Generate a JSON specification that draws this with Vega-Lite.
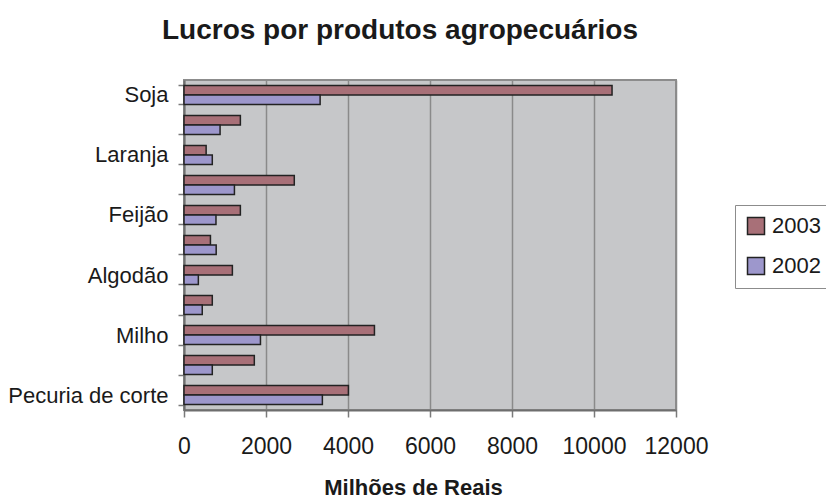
{
  "$schema": "https://vega.github.io/schema/vega-lite/v6.json",
  "autosize": {"type": "none"},
  "width": 492,
  "height": 330,
  "padding": {"left": 184, "top": 80, "right": 150, "bottom": 91},
  "background": "white",
  "config": {
    "font": "Liberation Sans",
    "view": {"fill": "#c6c7c9", "stroke": "#8c8c8c", "strokeWidth": 2}
  },
  "title": {
    "text": "Lucros por produtos agropecuários",
    "font": "Liberation Sans",
    "fontSize": 28,
    "fontWeight": "bold",
    "color": "#1a1a1a",
    "anchor": "middle",
    "frame": "group",
    "dx": -30,
    "offset": 24
  },
  "data": {
    "values": [
      {"produto": "Soja", "ano": "2003", "lucro": 10440},
      {"produto": "Soja", "ano": "2002", "lucro": 3320},
      {"produto": "Cana-de-açúcar", "ano": "2003", "lucro": 1375},
      {"produto": "Cana-de-açúcar", "ano": "2002", "lucro": 880},
      {"produto": "Laranja", "ano": "2003", "lucro": 540},
      {"produto": "Laranja", "ano": "2002", "lucro": 690},
      {"produto": "Café", "ano": "2003", "lucro": 2690},
      {"produto": "Café", "ano": "2002", "lucro": 1230},
      {"produto": "Feijão", "ano": "2003", "lucro": 1375},
      {"produto": "Feijão", "ano": "2002", "lucro": 780},
      {"produto": "Arroz", "ano": "2003", "lucro": 645},
      {"produto": "Arroz", "ano": "2002", "lucro": 785},
      {"produto": "Algodão", "ano": "2003", "lucro": 1180},
      {"produto": "Algodão", "ano": "2002", "lucro": 350},
      {"produto": "Trigo", "ano": "2003", "lucro": 690},
      {"produto": "Trigo", "ano": "2002", "lucro": 445},
      {"produto": "Milho", "ano": "2003", "lucro": 4645},
      {"produto": "Milho", "ano": "2002", "lucro": 1865},
      {"produto": "Fumo", "ano": "2003", "lucro": 1715},
      {"produto": "Fumo", "ano": "2002", "lucro": 690},
      {"produto": "Pecuria de corte", "ano": "2003", "lucro": 4010},
      {"produto": "Pecuria de corte", "ano": "2002", "lucro": 3375}
    ]
  },
  "mark": {"type": "bar", "stroke": "#222222", "strokeWidth": 1.5},
  "encoding": {
    "y": {
      "field": "produto",
      "type": "nominal",
      "sort": ["Soja", "Cana-de-açúcar", "Laranja", "Café", "Feijão", "Arroz", "Algodão", "Trigo", "Milho", "Fumo", "Pecuria de corte"],
      "scale": {"paddingInner": 0.367, "paddingOuter": 0.183},
      "axis": {
        "title": null,
        "labelExpr": "indexof(['Soja','Laranja','Feijão','Algodão','Milho','Pecuria de corte'], datum.value) >= 0 ? datum.value : ''",
        "labelFont": "Liberation Sans",
        "labelFontSize": 22,
        "labelColor": "#1a1a1a",
        "labelPadding": 10,
        "tickBand": "extent",
        "tickSize": 6,
        "tickColor": "#7a7a7a",
        "tickWidth": 1.5,
        "domainColor": "#6e6e6e",
        "domainWidth": 2,
        "grid": false
      }
    },
    "yOffset": {
      "field": "ano",
      "type": "nominal",
      "sort": ["2003", "2002"],
      "scale": {"paddingInner": 0, "paddingOuter": 0}
    },
    "x": {
      "field": "lucro",
      "type": "quantitative",
      "scale": {"domain": [0, 12000], "nice": false},
      "axis": {
        "title": "Milhões de Reais",
        "titleFont": "Liberation Sans",
        "titleFontSize": 22,
        "titleFontWeight": "bold",
        "titleColor": "#1a1a1a",
        "titleX": 229,
        "titleY": 67,
        "titleAlign": "center",
        "titleBaseline": "top",
        "values": [0, 2000, 4000, 6000, 8000, 10000, 12000],
        "format": "d",
        "labelFont": "Liberation Sans",
        "labelFontSize": 23,
        "labelColor": "#1a1a1a",
        "labelPadding": 18,
        "labelFlush": false,
        "tickSize": 7,
        "tickColor": "#7a7a7a",
        "tickWidth": 1.5,
        "domainColor": "#6e6e6e",
        "domainWidth": 2,
        "grid": true,
        "gridColor": "#8a8a8a",
        "gridWidth": 1.5
      }
    },
    "color": {
      "field": "ano",
      "type": "nominal",
      "sort": ["2003", "2002"],
      "scale": {"domain": ["2003", "2002"], "range": ["#a87078", "#9d97cc"]},
      "legend": {
        "title": null,
        "orient": "none",
        "legendX": 551,
        "legendY": 125,
        "symbolType": "square",
        "symbolSize": 289,
        "symbolStrokeColor": "#222222",
        "symbolStrokeWidth": 1.5,
        "symbolOpacity": 1,
        "labelFont": "Liberation Sans",
        "labelFontSize": 22,
        "labelColor": "#1a1a1a",
        "labelOffset": 5,
        "rowPadding": 16,
        "padding": 10,
        "strokeColor": "#8c8c8c",
        "fillColor": "white"
      }
    }
  }
}
